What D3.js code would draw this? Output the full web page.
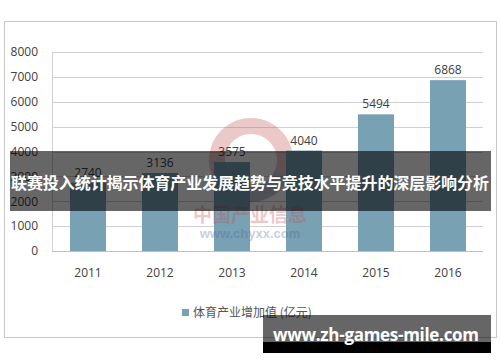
<!DOCTYPE html>
<html>
<head>
<meta charset="utf-8">
<script src="https://cdn.jsdelivr.net/npm/d3@7"></script>
<style>
  body { margin: 0; background: #fff; }
  svg { display: block; }
</style>
</head>
<body>
<svg id="viz"></svg>
<script>
var width = 500;
var height = 362;

// data
var years = ["2011", "2012", "2013", "2014", "2015", "2016"];
var values = [2740, 3136, 3575, 4040, 5494, 6868];
var yTicks = [0, 1000, 2000, 3000, 4000, 5000, 6000, 7000, 8000];
var legendLabel = "体育产业增加值 (亿元)";
var bannerText = "联赛投入统计揭示体育产业发展趋势与竞技水平提升的深层影响分析";
var siteText = "www.zh-games-mile.com";

var numFont = "'Open Sans', 'Liberation Sans', sans-serif";
var cjkFont = "'Noto Sans CJK SC', sans-serif";

var svg = d3.select("#viz")
  .attr("width", width)
  .attr("height", height);

// chart frame
svg.append("rect")
  .attr("x", 4.5).attr("y", 21.5)
  .attr("width", 492).attr("height", 316)
  .attr("fill", "#fff")
  .attr("stroke", "#c8c8c8");

// scales
var x = d3.scaleBand()
  .domain(years)
  .range([52, 484])
  .paddingInner(0.5)
  .paddingOuter(0.25);

var y = d3.scaleLinear()
  .domain([0, 8000])
  .range([251, 52]);

// gridlines
svg.append("g")
  .selectAll("line")
  .data(yTicks)
  .enter().append("line")
  .attr("x1", 52).attr("x2", 483)
  .attr("y1", function(d) { return Math.round(y(d)) + 0.5; })
  .attr("y2", function(d) { return Math.round(y(d)) + 0.5; })
  .attr("stroke", function(d) { return d === 0 ? "#bfbfbf" : "#d0d0d0"; });

svg.append("line")
  .attr("x1", 52.5).attr("x2", 52.5)
  .attr("y1", y(8000)).attr("y2", y(0))
  .attr("stroke", "#d0d0d0");

// y axis labels
svg.append("g")
  .selectAll("text")
  .data(yTicks)
  .enter().append("text")
  .attr("x", 38)
  .attr("y", function(d) { return y(d); })
  .attr("dy", "0.36em")
  .attr("text-anchor", "end")
  .attr("font-family", numFont)
  .attr("font-size", 12)
  .attr("fill", "#404040")
  .text(function(d) { return d; });

// faint watermark (behind the bars)
var wm = svg.append("g").attr("opacity", 0.3);
var ring = d3.arc().innerRadius(26).outerRadius(42);
wm.append("path")
  .attr("transform", "translate(251,160)")
  .attr("d", ring({ startAngle: -2.0, endAngle: 2.0 }))
  .attr("fill", "#c0504d");
wm.append("path")
  .attr("transform", "translate(251,160)")
  .attr("d", ring({ startAngle: 2.0, endAngle: 4.28 }))
  .attr("fill", "#3b4f7a");

// bars
svg.append("g")
  .selectAll("rect")
  .data(values)
  .enter().append("rect")
  .attr("x", function(d, i) { return x(years[i]); })
  .attr("width", x.bandwidth())
  .attr("y", function(d) { return y(d); })
  .attr("height", function(d) { return y(0) - y(d); })
  .attr("fill", "#79a1b4");

// watermark text
var wt = svg.append("g").attr("opacity", 0.3);
wt.append("text")
  .attr("x", 250).attr("y", 215)
  .attr("dy", "0.36em")
  .attr("text-anchor", "middle")
  .attr("font-family", cjkFont)
  .attr("font-weight", "bold")
  .attr("font-size", 19)
  .attr("fill", "#d04848")
  .text("中国产业信息");
wt.append("text")
  .attr("x", 250).attr("y", 233)
  .attr("dy", "0.36em")
  .attr("text-anchor", "middle")
  .attr("font-family", "'Liberation Sans', sans-serif")
  .attr("font-weight", "bold")
  .attr("font-size", 13)
  .attr("fill", "#4a5fa0")
  .text("www.chyxx.com");

// value labels
svg.append("g")
  .selectAll("text")
  .data(values)
  .enter().append("text")
  .attr("x", function(d, i) { return x(years[i]) + x.bandwidth() / 2; })
  .attr("y", function(d) { return y(d) - 6; })
  .attr("text-anchor", "middle")
  .attr("font-family", numFont)
  .attr("font-size", 12)
  .attr("fill", "#404040")
  .text(function(d) { return d; });

// x labels
svg.append("g")
  .selectAll("text")
  .data(years)
  .enter().append("text")
  .attr("x", function(d) { return x(d) + x.bandwidth() / 2; })
  .attr("y", 273)
  .attr("dy", "0.36em")
  .attr("text-anchor", "middle")
  .attr("font-family", numFont)
  .attr("font-size", 12)
  .attr("fill", "#404040")
  .text(function(d) { return d; });

// legend
svg.append("rect")
  .attr("x", 182).attr("y", 309)
  .attr("width", 7).attr("height", 7)
  .attr("fill", "#79a1b4");

svg.append("text")
  .attr("x", 193).attr("y", 313)
  .attr("dy", "0.36em")
  .attr("font-family", cjkFont)
  .attr("font-size", 12)
  .attr("fill", "#555")
  .text(legendLabel);

// banner
svg.append("rect")
  .attr("x", 10).attr("y", 151)
  .attr("width", 481).attr("height", 60)
  .attr("fill", "rgba(0,0,0,0.6)");

svg.append("text")
  .attr("x", 250).attr("y", 183)
  .attr("dy", "0.36em")
  .attr("text-anchor", "middle")
  .attr("font-family", cjkFont)
  .attr("font-weight", "bold")
  .attr("font-size", 16)
  .attr("textLength", 478)
  .attr("fill", "#fff")
  .text(bannerText);

// site box
svg.append("rect")
  .attr("x", 263).attr("y", 315)
  .attr("width", 228).attr("height", 27)
  .attr("fill", "rgba(0,0,0,0.6)");
svg.append("rect")
  .attr("x", 263).attr("y", 342)
  .attr("width", 228).attr("height", 11)
  .attr("fill", "#000");

svg.append("text")
  .attr("x", 376).attr("y", 341)
  .attr("text-anchor", "middle")
  .attr("font-family", "'Open Sans', 'DejaVu Sans', sans-serif")
  .attr("font-weight", "bold")
  .attr("font-size", 17)
  .attr("textLength", 206)
  .attr("fill", "#fff")
  .text(siteText);
</script>
</body>
</html>
